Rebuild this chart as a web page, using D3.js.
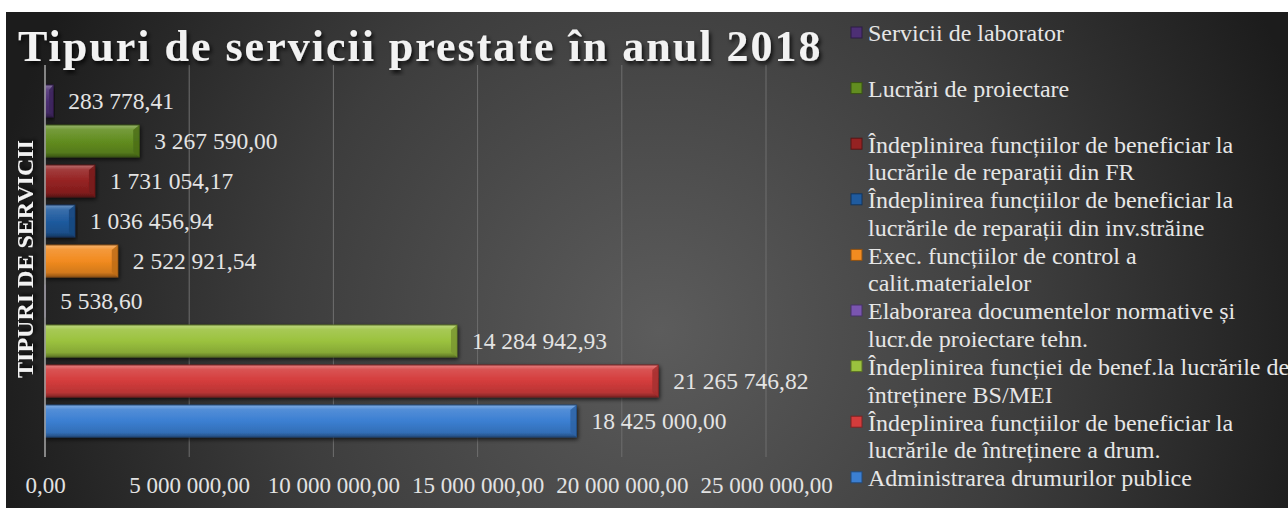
<!DOCTYPE html>
<html lang="ro">
<head>
    <meta charset="utf-8">
    <script src="https://d3js.org/d3.v7.min.js"></script>
    <style>
        body { margin: 0; background: #fff; }
        text { font-family: "Liberation Serif", "Times New Roman", serif; }
    </style>
</head>
<body>
    <svg width="1288" height="512"></svg>
    <script>
        // categories in the order of the source table (first one is drawn at the bottom)
        const categories = [
            "Administrarea drumurilor publice",
            "Îndeplinirea funcțiilor de beneficiar la lucrările de întreținere a drum.",
            "Îndeplinirea funcției de benef.la lucrările de întreținere BS/MEI",
            "Elaborarea documentelor normative și lucr.de proiectare tehn.",
            "Exec. funcțiilor de control a calit.materialelor",
            "Îndeplinirea funcțiilor de beneficiar la lucrările de reparații din inv.străine",
            "Îndeplinirea funcțiilor de beneficiar la lucrările de reparații din FR",
            "Lucrări de proiectare",
            "Servicii de laborator"
        ];
        const values = [18425000.00, 21265746.82, 14284942.93, 5538.60, 2522921.54,
                        1036456.94, 1731054.17, 3267590.00, 283778.41];
        const colors = ["#3b7fd2", "#d43c3c", "#9bc23e", "#7a55b0", "#f28b20",
                        "#1f5b9f", "#952222", "#628d20", "#4d2f74"];
        const xTicks = [0, 5000000, 10000000, 15000000, 20000000, 25000000];

        const svg = d3.select("svg");
        const defs = svg.append("defs");

        const bg = defs.append("radialGradient").attr("id", "bg")
            .attr("gradientUnits", "userSpaceOnUse")
            .attr("cx", 660).attr("cy", 330).attr("r", 680);
        bg.append("stop").attr("offset", "0%").attr("stop-color", "#5c5c5c");
        bg.append("stop").attr("offset", "55%").attr("stop-color", "#3d3d3d");
        bg.append("stop").attr("offset", "100%").attr("stop-color", "#1c1c1c");

        const shadow = defs.append("filter").attr("id", "shadow")
            .attr("x", "-10%").attr("y", "-30%").attr("width", "120%").attr("height", "160%");
        shadow.append("feDropShadow").attr("dx", 1).attr("dy", 2)
            .attr("stdDeviation", 2).attr("flood-color", "#000").attr("flood-opacity", 0.7);

        const tshadow = defs.append("filter").attr("id", "tshadow");
        tshadow.append("feDropShadow").attr("dx", 2).attr("dy", 3)
            .attr("stdDeviation", 2).attr("flood-color", "#000").attr("flood-opacity", 0.8);

        colors.forEach((c, i) => {
            const g = defs.append("linearGradient").attr("id", "bar" + i)
                .attr("x1", 0).attr("y1", 0).attr("x2", 0).attr("y2", 1);
            const col = d3.color(c);
            g.append("stop").attr("offset", "0%").attr("stop-color", d3.interpolateRgb(c, "#fff")(0.35));
            g.append("stop").attr("offset", "14%").attr("stop-color", d3.interpolateRgb(c, "#fff")(0.12));
            g.append("stop").attr("offset", "50%").attr("stop-color", c);
            g.append("stop").attr("offset", "86%").attr("stop-color", col.darker(0.4));
            g.append("stop").attr("offset", "100%").attr("stop-color", col.darker(1.4));
        });

        svg.append("rect").attr("x", 6).attr("y", 12)
            .attr("width", 1282).attr("height", 496).attr("fill", "url(#bg)");

        const x = d3.scaleLinear().domain([0, 25000000]).range([45, 766]);
        const y = d3.scaleBand().domain(categories).range([457, 65])
            .paddingInner(0.2).paddingOuter(0.5);

        const ro = d3.formatLocale({decimal: ",", thousands: " ", grouping: [3], currency: ["", ""]});
        const fmt = ro.format(",.2f");

        // gridlines
        svg.append("g").selectAll("line").data(xTicks.slice(1)).join("line")
            .attr("x1", d => x(d)).attr("x2", d => x(d))
            .attr("y1", 65).attr("y2", 457)
            .attr("stroke", "#6e6e6e").attr("stroke-width", 1);

        // x axis labels
        const xAxis = svg.append("g").attr("transform", "translate(0,457)")
            .call(d3.axisBottom(x).tickValues(xTicks).tickFormat(fmt).tickSize(0));
        xAxis.select(".domain").remove();
        xAxis.selectAll("text").attr("y", 36).attr("dy", 0).attr("fill", "#e2e2e2")
            .style("font-size", "23px").style("font-family", "Liberation Serif");

        // bars
        const bars = svg.append("g").selectAll("g").data(categories).join("g")
            .attr("filter", "url(#shadow)");
        bars.append("rect")
            .attr("x", x(0))
            .attr("y", d => y(d))
            .attr("width", (d, i) => x(values[i]) - x(0))
            .attr("height", y.bandwidth())
            .attr("fill", (d, i) => `url(#bar${i})`)
            .attr("stroke", (d, i) => d3.color(colors[i]).darker(1.6))
            .attr("stroke-width", 1);
        // bevel at the end of each bar
        bars.append("polygon")
            .attr("points", (d, i) => {
                const x1 = x(values[i]), w = Math.min(6, (x1 - x(0)) / 2), t = y(d), b = t + y.bandwidth();
                return [[x1 - w, t + 5], [x1, t], [x1, b], [x1 - w, b - 5]].join(" ");
            })
            .attr("fill", (d, i) => d3.color(colors[i]).darker(0.7))
            .attr("opacity", 0.85);

        // value labels
        svg.append("g").selectAll("text").data(categories).join("text")
            .attr("x", (d, i) => x(values[i]) + 15)
            .attr("y", d => y(d) + y.bandwidth() / 2)
            .attr("dy", "0.35em")
            .attr("fill", "#e4e4e4")
            .style("font-size", "23.5px")
            .text((d, i) => fmt(values[i]));

        // y axis line
        svg.append("line").attr("x1", x(0)).attr("x2", x(0))
            .attr("y1", 65).attr("y2", 457)
            .attr("stroke", "#a8a8a8").attr("stroke-width", 1.5);

        // axis title
        svg.append("text")
            .attr("transform", "translate(33,259) rotate(-90)")
            .attr("text-anchor", "middle")
            .attr("fill", "#f2f2f2")
            .attr("filter", "url(#tshadow)")
            .style("font-size", "24px").style("font-weight", "bold")
            .text("TIPURI DE SERVICII");

        // title
        svg.append("text")
            .attr("x", 18).attr("y", 61)
            .attr("fill", "#f2f2f2")
            .attr("filter", "url(#tshadow)")
            .style("font-size", "44px").style("font-weight", "bold")
            .style("letter-spacing", "2px")
            .text("Tipuri de servicii prestate în anul 2018");

        // legend, top to bottom
        const legendItems = categories.map((d, i) => ({name: d, color: colors[i]})).reverse();
        const legend = svg.append("g");
        const maxW = 424;
        legendItems.forEach((item, k) => {
            const cy = 33 + k * 55.6;
            legend.append("rect")
                .attr("x", 851).attr("y", cy - 6).attr("width", 11).attr("height", 11)
                .attr("fill", item.color)
                .attr("stroke", d3.color(item.color).darker(1.5)).attr("stroke-width", 1);
            const t = legend.append("text")
                .attr("x", 868).attr("y", cy)
                .attr("fill", "#e6e6e6").style("font-size", "24px");
            // greedy word wrap
            const words = item.name.split(" ");
            let line = [];
            let tspan = t.append("tspan").attr("x", 868).attr("dy", "0.35em");
            words.forEach(w => {
                line.push(w);
                tspan.text(line.join(" "));
                if (tspan.node().getComputedTextLength() > maxW && line.length > 1) {
                    line.pop();
                    tspan.text(line.join(" "));
                    line = [w];
                    tspan = t.append("tspan").attr("x", 868).attr("dy", "27.5px").text(w);
                }
            });
        });
    </script>
</body>
</html>
